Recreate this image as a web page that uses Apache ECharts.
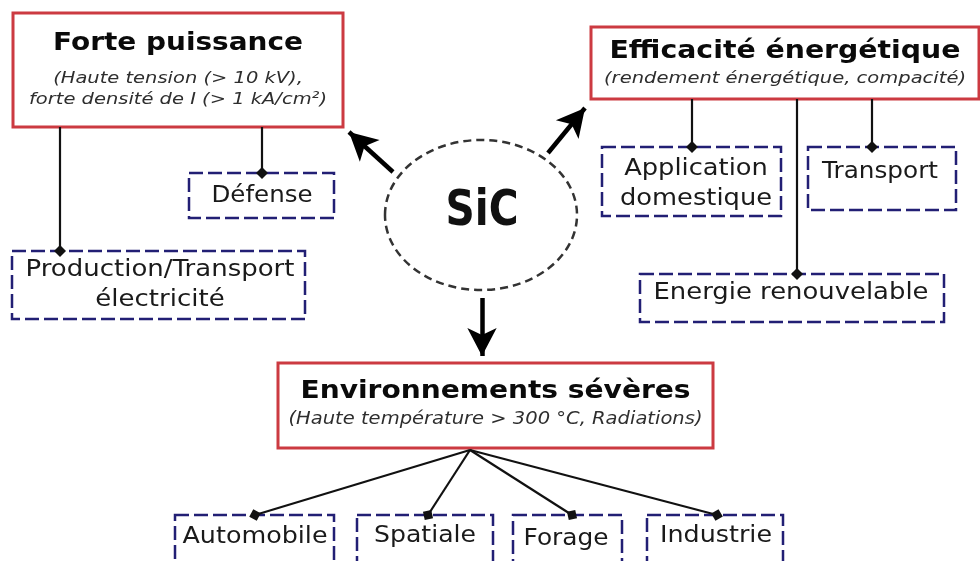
<!DOCTYPE html>
<html>
<head>
<meta charset="utf-8">
<script src="https://cdn.jsdelivr.net/npm/echarts@6/dist/echarts.min.js"></script>
<style>
  html, body { margin: 0; padding: 0; background: #fff; }
  #chart { width: 980px; height: 561px; }
</style>
</head>
<body>
<div id="chart"></div>
<script>
// texte du schéma
var centre = 'SiC';
var hubs = ['Forte puissance', 'Efficacité énergétique', 'Environnements sévères'];
var hubNotes = [
  ['(Haute tension (> 10 kV),', 'forte densité de I (> 1 kA/cm²)'],
  ['(rendement énergétique, compacité)'],
  ['(Haute température > 300 °C, Radiations)']
];
var leaves = ['Défense', 'Production/Transport\nélectricité', 'Application\ndomestique', 'Transport',
  'Energie renouvelable', 'Automobile', 'Spatiale', 'Forage', 'Industrie'];
var leafHub = [0, 0, 1, 1, 1, 2, 2, 2, 2];

// mise en page (pixels de la figure)
var hubBox = [[13, 13, 343, 127], [591, 27, 979, 99], [278, 363, 713, 448]];
var hubTitleY = [44, 52, 392];
var hubTitleW = [250, 351, 390];
var hubNoteY = [[79, 100], [79], [420]];
var hubNoteW = [298, 362, 414];
var hubNoteSize = [16.5, 16.5, 17];
var hubRoot = [null, null, [470, 450]];
var leafBox = [[189, 173, 334, 218], [12, 251, 305, 319], [602, 147, 781, 216], [808, 147, 956, 210],
  [640, 274, 944, 322], [175, 515, 334, 568], [357, 515, 493, 568], [513, 515, 622, 568], [647, 515, 783, 568]];
var leafText = [[262, 196], [160, 285], [696, 184], [880, 172], [791, 293], [255, 537], [425, 536], [566, 539], [716, 536]];
var leafW = [101, 269, 152, 116, 275, 145, 102, 85, 112];
var leafAnchorX = [262, 60, 692, 872, 797, 255, 428, 572, 717];
var centreShape = [481, 215, 96, 75];
var centreW = 73;
var arrows = [[[393, 172], [349, 132]], [[548, 153], [585, 108]], [[482, 298], [482, 356]]];

var FONT = '"DejaVu Sans", sans-serif';
var measureCtx = document.createElement('canvas').getContext('2d');

var chart = echarts.init(document.getElementById('chart'), null, { renderer: 'canvas' });

// largeur voulue -> facteur horizontal (le dessin d'origine est étiré)
function fitScale(text, style, target) {
  measureCtx.font = (style.fontStyle || 'normal') + ' ' + (style.fontWeight || 'normal') + ' ' + style.fontSize + 'px ' + FONT;
  var w = 0;
  text.split('\n').forEach(function (l) { w = Math.max(w, measureCtx.measureText(l).width); });
  return w ? target / w : 1;
}
function txt(api, p, target, style) {
  var c = api.coord(p);
  return {
    type: 'text', x: c[0], y: c[1], scaleX: fitScale(style.text, style, target),
    style: echarts.util.extend({ x: 0, y: 0, align: 'center', verticalAlign: 'middle', fontFamily: FONT }, style)
  };
}
function rectOf(api, b) {
  var a = api.coord([b[0], b[1]]), z = api.coord([b[2], b[3]]);
  return { x: a[0], y: a[1], width: z[0] - a[0], height: z[1] - a[1] };
}

var connectors = leaves.map(function (n, i) {
  var h = leafHub[i], b = hubBox[h];
  var from = hubRoot[h] || [leafAnchorX[i], b[3]];
  return { name: n, coords: [from, [leafAnchorX[i], leafBox[i][1]]] };
});

chart.setOption({
  backgroundColor: '#fff',
  animation: false,
  grid: { left: 0, right: 0, top: 0, bottom: 0 },
  xAxis: { type: 'value', min: 0, max: 980, show: false },
  yAxis: { type: 'value', min: 0, max: 561, inverse: true, show: false },
  series: [
    {
      type: 'custom', name: 'hubs', z: 2, clip: false,
      encode: { x: 0, y: 1 },
      data: hubs.map(function (t, i) { return [(hubBox[i][0] + hubBox[i][2]) / 2, hubTitleY[i], i]; }),
      renderItem: function (params, api) {
        var i = api.value(2), b = hubBox[i], cx = (b[0] + b[2]) / 2;
        var kids = [{
          type: 'rect', shape: rectOf(api, b),
          style: { fill: '#fff', stroke: '#cc3a41', lineWidth: 3 }
        }, txt(api, [cx, hubTitleY[i]], hubTitleW[i], { text: hubs[i], fontSize: 24, fontWeight: 'bold', fill: '#0a0a0a' })];
        var noteStyle = { text: hubNotes[i].join('\n'), fontSize: hubNoteSize[i], fontStyle: 'italic' };
        var s = fitScale(noteStyle.text, noteStyle, hubNoteW[i]);
        hubNotes[i].forEach(function (line, k) {
          var c = api.coord([cx, hubNoteY[i][k]]);
          kids.push({
            type: 'text', x: c[0], y: c[1], scaleX: s,
            style: { text: line, x: 0, y: 0, align: 'center', verticalAlign: 'middle', fontFamily: FONT,
              fontSize: hubNoteSize[i], fontStyle: 'italic', fill: '#2e2e2e' }
          });
        });
        return { type: 'group', children: kids };
      }
    },
    {
      type: 'custom', name: 'leaves', z: 2, clip: false,
      encode: { x: 0, y: 1 },
      data: leaves.map(function (t, i) { return [leafText[i][0], leafText[i][1], i]; }),
      renderItem: function (params, api) {
        var i = api.value(2);
        return {
          type: 'group', children: [{
            type: 'rect', shape: rectOf(api, leafBox[i]),
            style: { fill: '#fff', stroke: '#221f74', lineWidth: 2.5, lineDash: [14, 5] }
          }, txt(api, leafText[i], leafW[i], { text: leaves[i], fontSize: 23, lineHeight: 30, fill: '#1a1a1a' })]
        };
      }
    },
    {
      type: 'custom', name: 'centre', z: 2, clip: false,
      encode: { x: 0, y: 1 },
      data: [[centreShape[0], centreShape[1]]],
      renderItem: function (params, api) {
        var c = api.coord([centreShape[0], centreShape[1]]);
        return {
          type: 'group', children: [{
            type: 'ellipse', shape: { cx: c[0], cy: c[1], rx: centreShape[2], ry: centreShape[3] },
            style: { fill: '#fff', stroke: '#333', lineWidth: 2.5, lineDash: [8, 5] }
          }, txt(api, [centreShape[0] + 1, centreShape[1] - 3], centreW, { text: centre, fontSize: 50, fontWeight: 'bold', fill: '#111' })]
        };
      }
    },
    {
      type: 'lines', name: 'liens', coordinateSystem: 'cartesian2d', z: 5,
      symbol: ['none', 'diamond'], symbolSize: 12,
      lineStyle: { color: '#111', width: 2.2, opacity: 1, curveness: 0 },
      data: connectors
    },
    {
      type: 'lines', name: 'fleches', coordinateSystem: 'cartesian2d', z: 5,
      symbol: ['none', 'arrow'], symbolSize: [[1, 1], [22, 28]],
      lineStyle: { color: '#000', width: 4.5, opacity: 1, curveness: 0 },
      data: arrows.map(function (a) { return { coords: a }; })
    }
  ]
});
</script>
</body>
</html>
